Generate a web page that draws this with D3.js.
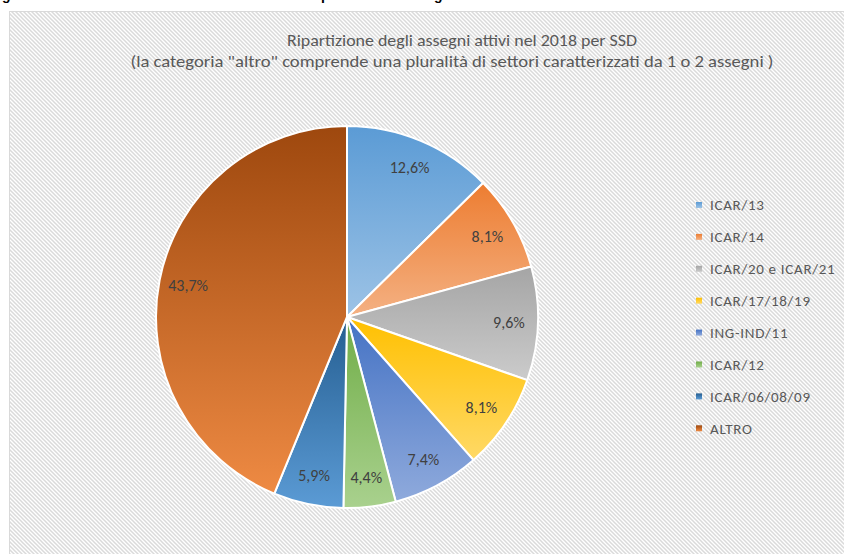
<!DOCTYPE html>
<html><head><meta charset="utf-8">
<script src="https://cdn.jsdelivr.net/npm/d3@7"></script>
<style>html,body{margin:0;padding:0;background:#fff;}svg{display:block;}</style>
</head><body>
<script>
const categories = ["ICAR/13","ICAR/14","ICAR/20 e ICAR/21","ICAR/17/18/19","ING-IND/11","ICAR/12","ICAR/06/08/09","ALTRO"];
const values = [12.6, 8.1, 9.6, 8.1, 7.4, 4.4, 5.9, 43.7];
const labels = ["12,6%","8,1%","9,6%","8,1%","7,4%","4,4%","5,9%","43,7%"];
const colorTop = ["#5b9bd5","#ed7d31","#a5a5a5","#ffc000","#4472c4","#70ad47","#255e91","#9e480e"];
const colorBottom = ["#9dc3e6","#f4b183","#cbcbcb","#ffd966","#8faadc","#a9d18e","#5b9bd5","#ee8a43"];
const titleLines = ["Ripartizione degli assegni attivi nel 2018 per SSD","(la categoria \"altro\" comprende una pluralità di settori caratterizzati da 1 o 2 assegni )"];

const W = 844, H = 554;
const svg = d3.select("body").append("svg").attr("width", W).attr("height", H);
const defs = svg.append("defs");

// hatch pattern
const pat = defs.append("pattern").attr("id","hatch").attr("patternUnits","userSpaceOnUse")
  .attr("width",4).attr("height",4);
pat.append("rect").attr("width",4).attr("height",4).attr("fill","#ffffff");
pat.append("path").attr("d","M-1,-1 L5,5 M-1,3 L1,5 M3,-1 L5,1").attr("stroke","#dadada").attr("stroke-width",1.5);

// caption fragments (clipped at top, as in the reference)
const cap = svg.append("g").attr("font-family","Liberation Sans, Arial, sans-serif").attr("font-weight","bold").attr("font-size",14).attr("fill","#000");
[["g",2],["p",321],["g",434]].forEach(([t,x]) => cap.append("text").attr("x",x).attr("y",-0.5).text(t));

// chart area
svg.append("rect").attr("x",9.5).attr("y",11.5).attr("width",W+20).attr("height",H+20)
  .attr("fill","url(#hatch)").attr("stroke","#d9d9d9").attr("stroke-width",1);

// title
const tg = svg.append("g").attr("font-family","Carlito, Lato, sans-serif").attr("fill","#595959").attr("font-size",16).attr("text-anchor","middle");
const t1 = tg.append("text").attr("x",462).attr("y",46).text(titleLines[0]);
const t2 = tg.append("text").attr("x",452).attr("y",67).text(titleLines[1]);
t1.attr("textLength",350).attr("lengthAdjust","spacingAndGlyphs");
t2.attr("textLength",643).attr("lengthAdjust","spacingAndGlyphs");

// gradients
categories.forEach((c,i) => {
  const g = defs.append("linearGradient").attr("id","grad"+i).attr("x1",0).attr("y1",0).attr("x2",0).attr("y2",1);
  g.append("stop").attr("offset","0%").attr("stop-color",colorTop[i]);
  g.append("stop").attr("offset","100%").attr("stop-color",colorBottom[i]);
});

const cx = 347, cy = 317, R = 191;
const pie = d3.pie().sort(null).value(d => d)(values);
const arc = d3.arc().innerRadius(0).outerRadius(R);
const labelArc = d3.arc().innerRadius(162).outerRadius(162);

const pg = svg.append("g").attr("transform",`translate(${cx},${cy})`);
pg.selectAll("path").data(pie).join("path")
  .attr("d", arc)
  .attr("fill", (d,i) => `url(#grad${i})`)
  .attr("stroke","#ffffff").attr("stroke-width",2).attr("stroke-linejoin","round");

pg.selectAll("text.lbl").data(pie).join("text").attr("class","lbl")
  .attr("transform", d => `translate(${labelArc.centroid(d)})`)
  .attr("text-anchor","middle").attr("dy","0.35em")
  .attr("font-family","Carlito, Lato, sans-serif").attr("font-size",16).attr("fill","#404040")
  .text((d,i) => labels[i]);

// legend
const lg = svg.append("g").attr("font-family","Carlito, Lato, sans-serif").attr("font-size",15)
  .attr("letter-spacing","0.7px").attr("fill","#595959");
categories.forEach((c,i) => {
  const y = 205 + i*31.9;
  lg.append("rect").attr("x",696).attr("y",y-3).attr("width",6).attr("height",6)
    .attr("fill",`url(#grad${i})`);
  lg.append("text").attr("x",710).attr("y",y).attr("dy","0.35em").text(c);
});
</script>
</body></html>
